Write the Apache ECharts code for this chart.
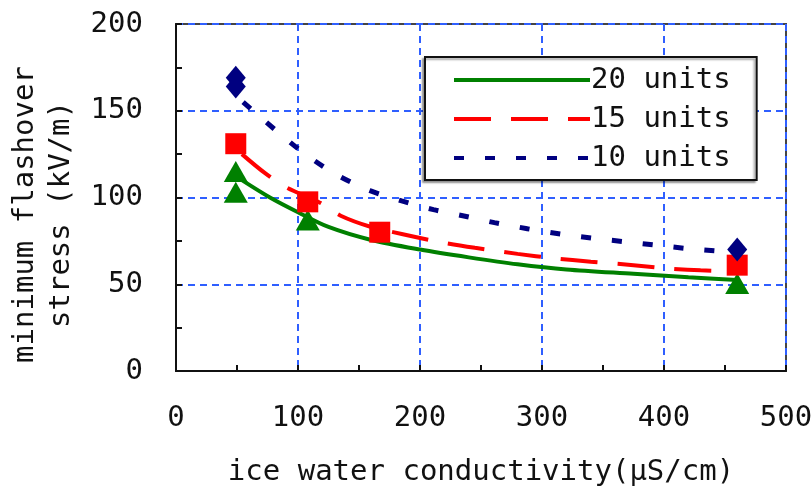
<!DOCTYPE html>
<html>
<head>
<meta charset="utf-8">
<title>minimum flashover stress</title>
<script src="https://cdn.jsdelivr.net/npm/echarts@6/dist/echarts.min.js"></script>
<style>
  html, body { margin: 0; padding: 0; background: #fff; }
  #chart { width: 812px; height: 490px; }
</style>
</head>
<body>
<div id="chart"></div>
<script>
// 测量点 [电导率, 闪络应力]
const points20 = [[49, 115], [49, 103], [108, 87], [460, 50.5]]
const points15 = [[49, 131], [108, 97.5], [167, 80], [460, 61]]
const points10 = [[49, 169], [49, 164], [460, 70]]

// 拟合曲线
const fit20 = [[54, 110], [77, 100], [100, 91.5], [125, 83], [160, 75.5], [200, 70], [240, 65.5],
  [280, 61.5], [320, 58.5], [375, 56], [420, 54], [460, 52.5]]
const fit15 = [[54, 125], [73, 114], [90, 106], [118, 97], [135, 89.5], [160, 83], [185, 79],
  [215, 74.5], [245, 71], [280, 67.5], [310, 65], [340, 63], [375, 61], [405, 59], [430, 58], [460, 57.5]]
const fit10 = [[55, 155], [83, 138], [106, 125], [132, 113], [159, 104], [185, 98], [211, 93],
  [235, 89.5], [261, 85.5], [288, 82], [315, 79], [342, 76.5], [368, 74.5], [394, 72.5],
  [420, 70.5], [446, 69], [460, 68]]

const seriesNames = ['20 units', '15 units', '10 units']
const xTicks = { min: 0, max: 500, step: 100 }
const yTicks = { min: 0, max: 200, step: 50 }

const FONT = 'DejaVu Sans Mono'
const GRID_COLOR = '#2f5fff'

const chart = echarts.init(document.getElementById('chart'), null, { renderer: 'canvas' })

const axisCommon = {
  type: 'value',
  axisLine: { show: true, onZero: false, lineStyle: { color: '#111', width: 2 } },
  axisTick: { show: true, inside: true, length: 6, lineStyle: { color: '#111', width: 2 } },
  minorTick: { show: true, splitNumber: 2, length: 6, lineStyle: { color: '#111', width: 2 } },
  splitLine: { show: true, lineStyle: { color: GRID_COLOR, width: 2, type: [7, 5] } },
  axisLabel: { color: '#111', fontFamily: FONT, fontSize: 29, margin: 33 },
  nameLocation: 'middle',
  nameTextStyle: { color: '#111', fontFamily: FONT, fontSize: 29 },
}

const option = {
  backgroundColor: '#fff',
  animation: false,
  grid: {
    left: 176,
    right: 26,
    top: 24,
    bottom: 119,
    outerBoundsMode: 'none',
    containLabel: false,
    show: true,
    borderColor: '#444',
    borderWidth: 2,
    backgroundColor: '#fff',
  },
  legend: {
    data: seriesNames,
    orient: 'vertical',
    left: 425,
    top: 57,
    padding: [8, 26, 7, 27],
    itemWidth: 136,
    itemHeight: 14,
    itemGap: 9,
    itemStyle: { opacity: 0 },
    lineStyle: { width: 4 },
    backgroundColor: '#fff',
    borderColor: '#111',
    borderWidth: 2,
    shadowColor: 'rgba(0,0,0,0.35)',
    shadowOffsetX: -2,
    shadowOffsetY: 2,
    shadowBlur: 2,
    textStyle: { color: '#111', fontFamily: FONT, fontSize: 29, lineHeight: 30, padding: [0, 0, 0, -4] },
  },
  xAxis: {
    ...axisCommon,
    min: xTicks.min,
    max: xTicks.max,
    interval: xTicks.step,
    name: 'ice water conductivity(μS/cm)',
    nameGap: 87,
  },
  yAxis: {
    ...axisCommon,
    min: yTicks.min,
    max: yTicks.max,
    interval: yTicks.step,
    name: 'minimum flashover\nstress (kV/m)',
    nameGap: 93,
    nameRotate: 90,
    nameTextStyle: { ...axisCommon.nameTextStyle, lineHeight: 36, padding: [0, 34, 0, 0] },
  },
  series: [
    {
      name: seriesNames[0],
      type: 'line',
      data: fit20,
      smooth: 0.3,
      symbol: 'none',
      z: 3,
      lineStyle: { color: '#008000', width: 4 },
      itemStyle: { color: '#008000' },
    },
    {
      name: seriesNames[1],
      type: 'line',
      data: fit15,
      smooth: 0.3,
      symbol: 'none',
      z: 3,
      lineStyle: { color: '#ff0000', width: 4, type: [37, 20] },
      itemStyle: { color: '#ff0000' },
    },
    {
      name: seriesNames[2],
      type: 'line',
      data: fit10,
      smooth: 0.3,
      symbol: 'none',
      z: 3,
      lineStyle: { color: '#000080', width: 5, type: [10, 21] },
      itemStyle: { color: '#000080' },
    },
    {
      name: '20 units data',
      type: 'scatter',
      data: points20,
      symbol: 'triangle',
      symbolSize: [24, 21],
      z: 5,
      itemStyle: { color: '#008000', opacity: 1 },
    },
    {
      name: '15 units data',
      type: 'scatter',
      data: points15,
      symbol: 'rect',
      symbolSize: 21,
      z: 5,
      itemStyle: { color: '#ff0000', opacity: 1 },
    },
    {
      name: '10 units data',
      type: 'scatter',
      data: points10,
      symbol: 'diamond',
      symbolSize: [20, 24],
      z: 5,
      itemStyle: { color: '#000080', opacity: 1 },
    },
  ],
}

chart.setOption(option)
</script>
</body>
</html>
